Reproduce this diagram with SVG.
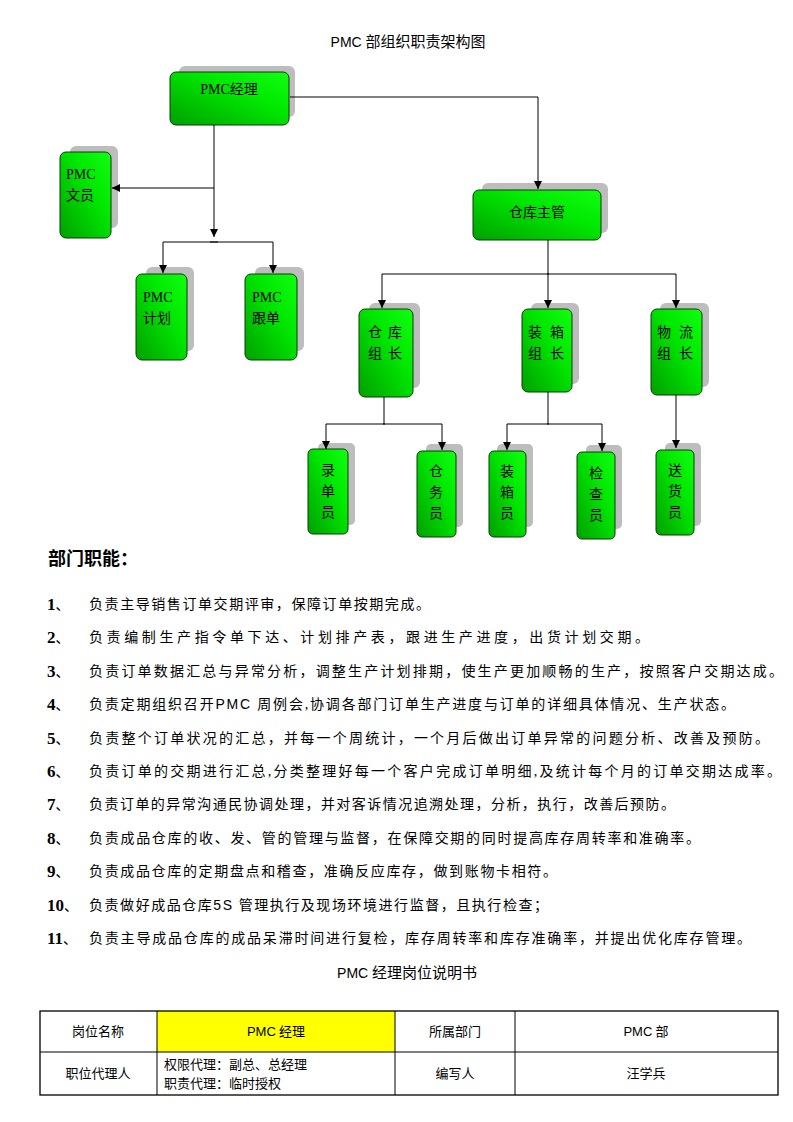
<svg xmlns="http://www.w3.org/2000/svg" width="793" height="1122" viewBox="0 0 793 1122">
<style>
.box{fill:url(#g);stroke:#0a3a0a;stroke-width:1}
.sh{fill:#BDBDBD}
.nt{font-family:"Liberation Serif","Noto Sans CJK SC",serif;font-size:14px;fill:#000}
.ns{font-family:"Noto Sans CJK SC",sans-serif;font-size:14px;fill:#000}
.ln{fill:none;stroke:#000;stroke-width:1}
.body{font-family:"Liberation Serif","Noto Sans CJK SC",serif;font-size:14px;fill:#000}
.num{font-family:"Liberation Serif",serif;font-size:17px;font-weight:bold;fill:#000}
.cell{font-family:"Liberation Serif","Noto Sans CJK SC",serif;font-size:13px;fill:#000}
</style>
<defs>
<linearGradient id="g" x1="0" y1="1" x2="1" y2="0">
<stop offset="0" stop-color="#00A000"/>
<stop offset="0.6" stop-color="#00E800"/>
<stop offset="1" stop-color="#10FF10"/>
</linearGradient>
<marker id="a" viewBox="0 0 10 10" refX="10" refY="5" markerWidth="8" markerHeight="8" markerUnits="userSpaceOnUse" orient="auto">
<path d="M0,0 L10,5 L0,10 z" fill="#000"/>
</marker>
</defs>
<rect width="793" height="1122" fill="#fff"/>
<text x="408" y="47" text-anchor="middle" font-family="Liberation Serif,Noto Sans CJK SC,serif" font-size="15"><tspan font-family="Liberation Sans,sans-serif" font-size="14">PMC</tspan> 部组织职责架构图</text>

<g id="n-pmc-manager">
<rect class="sh" x="179" y="66" width="116" height="51" rx="6"/>
<rect class="box" x="170" y="72" width="119" height="53" rx="6"/>
<text class="nt" x="229" y="94" text-anchor="middle">PMC经理</text>
</g>
<g id="n-pmc-clerk">
<rect class="sh" x="70" y="146" width="48" height="82" rx="6"/>
<rect class="box" x="60" y="152" width="51" height="86" rx="6"/>
<text class="nt" x="66" y="179">PMC</text>
<text class="nt" x="66" y="200">文员</text>
</g>
<g id="n-pmc-plan">
<rect class="sh" x="146" y="267" width="48" height="84" rx="6"/>
<rect class="box" x="136" y="274" width="51" height="86" rx="6"/>
<text class="nt" x="143" y="302">PMC</text>
<text class="nt" x="143" y="323">计划</text>
</g>
<g id="n-pmc-follow">
<rect class="sh" x="255" y="267" width="49" height="84" rx="6"/>
<rect class="box" x="245" y="274" width="52" height="86" rx="6"/>
<text class="nt" x="252" y="302">PMC</text>
<text class="nt" x="252" y="323">跟单</text>
</g>
<g id="n-wh-supervisor">
<rect class="sh" x="482" y="183" width="126" height="50" rx="6"/>
<rect class="box" x="473" y="190" width="128" height="50" rx="6"/>
<text class="ns" x="537" y="217" text-anchor="middle">仓库主管</text>
</g>
<g id="n-wh-leader">
<rect class="sh" x="369" y="303" width="51" height="85" rx="6"/>
<rect class="box" x="359" y="309" width="54" height="88" rx="6"/>
<text class="ns" x="375" y="337" text-anchor="middle">仓</text>
<text class="ns" x="395" y="337" text-anchor="middle">库</text>
<text class="ns" x="375" y="358" text-anchor="middle">组</text>
<text class="ns" x="395" y="358" text-anchor="middle">长</text>
</g>
<g id="n-pack-leader">
<rect class="sh" x="531" y="303" width="48" height="81" rx="6"/>
<rect class="box" x="522" y="309" width="50" height="83" rx="6"/>
<text class="ns" x="535" y="337" text-anchor="middle">装</text>
<text class="ns" x="557" y="337" text-anchor="middle">箱</text>
<text class="ns" x="535" y="358" text-anchor="middle">组</text>
<text class="ns" x="557" y="358" text-anchor="middle">长</text>
</g>
<g id="n-log-leader">
<rect class="sh" x="660" y="303" width="49" height="84" rx="6"/>
<rect class="box" x="651" y="309" width="51" height="86" rx="6"/>
<text class="ns" x="664" y="337" text-anchor="middle">物</text>
<text class="ns" x="686" y="337" text-anchor="middle">流</text>
<text class="ns" x="664" y="358" text-anchor="middle">组</text>
<text class="ns" x="686" y="358" text-anchor="middle">长</text>
</g>
<g id="n-entry">
<rect class="sh" x="318" y="443" width="37" height="82" rx="5"/>
<rect class="box" x="308" y="449" width="40" height="85" rx="5"/>
<text class="ns" x="328" y="475" text-anchor="middle">录</text>
<text class="ns" x="328" y="496" text-anchor="middle">单</text>
<text class="ns" x="328" y="517" text-anchor="middle">员</text>
</g>
<g id="n-wh-clerk">
<rect class="sh" x="426" y="444" width="37" height="83" rx="5"/>
<rect class="box" x="417" y="451" width="39" height="86" rx="5"/>
<text class="ns" x="436" y="476" text-anchor="middle">仓</text>
<text class="ns" x="436" y="497" text-anchor="middle">务</text>
<text class="ns" x="436" y="518" text-anchor="middle">员</text>
</g>
<g id="n-packer">
<rect class="sh" x="497" y="444" width="36" height="83" rx="5"/>
<rect class="box" x="489" y="451" width="37" height="86" rx="5"/>
<text class="ns" x="507" y="476" text-anchor="middle">装</text>
<text class="ns" x="507" y="497" text-anchor="middle">箱</text>
<text class="ns" x="507" y="518" text-anchor="middle">员</text>
</g>
<g id="n-inspector">
<rect class="sh" x="586" y="445" width="36" height="84" rx="5"/>
<rect class="box" x="577" y="452" width="38" height="87" rx="5"/>
<text class="ns" x="596" y="478" text-anchor="middle">检</text>
<text class="ns" x="596" y="499" text-anchor="middle">查</text>
<text class="ns" x="596" y="520" text-anchor="middle">员</text>
</g>
<g id="n-delivery">
<rect class="sh" x="665" y="443" width="36" height="83" rx="5"/>
<rect class="box" x="656" y="450" width="38" height="85" rx="5"/>
<text class="ns" x="675" y="475" text-anchor="middle">送</text>
<text class="ns" x="675" y="496" text-anchor="middle">货</text>
<text class="ns" x="675" y="517" text-anchor="middle">员</text>
</g>

<g id="connectors">
<path class="ln" d="M290,97 H538 V189" marker-end="url(#a)"/>
<path class="ln" d="M214,125 V237" marker-end="url(#a)" stroke="#444"/>
<path class="ln" d="M214,188 H112" marker-end="url(#a)"/>
<path class="ln" d="M218,242 H163 V273" marker-end="url(#a)"/>
<path class="ln" d="M210,242 H273 V273" marker-end="url(#a)"/>
<path class="ln" d="M548,240 V308" marker-end="url(#a)"/>
<path class="ln" d="M549,274 H382 V308" marker-end="url(#a)"/>
<path class="ln" d="M547,274 H676 V308" marker-end="url(#a)"/>
<path class="ln" d="M384,397 V424"/>
<path class="ln" d="M385,424 H326 V449" marker-end="url(#a)"/>
<path class="ln" d="M383,424 H442 V450" marker-end="url(#a)"/>
<path class="ln" d="M548,392 V424"/>
<path class="ln" d="M549,424 H507 V450" marker-end="url(#a)"/>
<path class="ln" d="M547,424 H602 V451" marker-end="url(#a)"/>
<path class="ln" d="M676,395 V448" marker-end="url(#a)"/>
</g>

<text x="48" y="565" font-family="Noto Sans CJK SC,sans-serif" font-size="18" font-weight="bold">部门职能：</text>

<g id="list">
<text class="num" x="47" y="610">1<tspan class="body" font-weight="normal">、</tspan></text>
<text class="body" x="89" y="609" textLength="341" lengthAdjust="spacing">负责主导销售订单交期评审，保障订单按期完成。</text>
<text class="num" x="47" y="643">2<tspan class="body" font-weight="normal">、</tspan></text>
<text class="body" x="89" y="642" textLength="560" lengthAdjust="spacing">负责编制生产指令单下达、计划排产表，跟进生产进度，出货计划交期。</text>
<text class="num" x="47" y="677">3<tspan class="body" font-weight="normal">、</tspan></text>
<text class="body" x="89" y="676" textLength="694" lengthAdjust="spacing">负责订单数据汇总与异常分析，调整生产计划排期，使生产更加顺畅的生产，按照客户交期达成。</text>
<text class="num" x="47" y="710">4<tspan class="body" font-weight="normal">、</tspan></text>
<text class="body" x="89" y="709" textLength="646" lengthAdjust="spacing">负责定期组织召开<tspan font-family="Liberation Sans,sans-serif">PMC</tspan> 周例会,协调各部门订单生产进度与订单的详细具体情况、生产状态。</text>
<text class="num" x="47" y="744">5<tspan class="body" font-weight="normal">、</tspan></text>
<text class="body" x="89" y="743" textLength="680" lengthAdjust="spacing">负责整个订单状况的汇总，并每一个周统计，一个月后做出订单异常的问题分析、改善及预防。</text>
<text class="num" x="47" y="777">6<tspan class="body" font-weight="normal">、</tspan></text>
<text class="body" x="89" y="776" textLength="692" lengthAdjust="spacing">负责订单的交期进行汇总,分类整理好每一个客户完成订单明细,及统计每个月的订单交期达成率。</text>
<text class="num" x="47" y="810">7<tspan class="body" font-weight="normal">、</tspan></text>
<text class="body" x="89" y="809" textLength="586" lengthAdjust="spacing">负责订单的异常沟通民协调处理，并对客诉情况追溯处理，分析，执行，改善后预防。</text>
<text class="num" x="47" y="844">8<tspan class="body" font-weight="normal">、</tspan></text>
<text class="body" x="89" y="843" textLength="611" lengthAdjust="spacing">负责成品仓库的收、发、管的管理与监督，在保障交期的同时提高库存周转率和准确率。</text>
<text class="num" x="47" y="877">9<tspan class="body" font-weight="normal">、</tspan></text>
<text class="body" x="89" y="876" textLength="468" lengthAdjust="spacing">负责成品仓库的定期盘点和稽查，准确反应库存，做到账物卡相符。</text>
<text class="num" x="47" y="911">10<tspan class="body" font-weight="normal">、</tspan></text>
<text class="body" x="89" y="910" textLength="459" lengthAdjust="spacing">负责做好成品仓库<tspan font-family="Liberation Sans,sans-serif">5S</tspan> 管理执行及现场环境进行监督，且执行检查；</text>
<text class="num" x="47" y="944">11<tspan class="body" font-weight="normal">、</tspan></text>
<text class="body" x="89" y="943" textLength="662" lengthAdjust="spacing">负责主导成品仓库的成品呆滞时间进行复检，库存周转率和库存准确率，并提出优化库存管理。</text>
</g>

<text x="407" y="978" text-anchor="middle" font-family="Liberation Serif,Noto Sans CJK SC,serif" font-size="15"><tspan font-family="Liberation Sans,sans-serif" font-size="14">PMC</tspan> 经理岗位说明书</text>

<g id="table">
<rect x="157" y="1011" width="238" height="41" fill="#FFFF00"/>
<rect x="40" y="1011" width="738" height="84" fill="none" stroke="#000" stroke-width="1.3"/>
<path d="M40,1052 H778 M157,1011 V1095 M395,1011 V1095 M515,1011 V1095" stroke="#000" stroke-width="1" fill="none"/>
<text class="cell" x="98" y="1036" text-anchor="middle">岗位名称</text>
<text class="cell" x="276" y="1036" text-anchor="middle"><tspan font-family="Liberation Sans,sans-serif">PMC</tspan> 经理</text>
<text class="cell" x="455" y="1036" text-anchor="middle">所属部门</text>
<text class="cell" x="646" y="1036" text-anchor="middle"><tspan font-family="Liberation Sans,sans-serif">PMC</tspan> 部</text>
<text class="cell" x="98" y="1078" text-anchor="middle">职位代理人</text>
<text class="cell" x="164" y="1069">权限代理：副总、总经理</text>
<text class="cell" x="164" y="1088">职责代理：临时授权</text>
<text class="cell" x="455" y="1078" text-anchor="middle">编写人</text>
<text class="cell" x="646" y="1078" text-anchor="middle">汪学兵</text>
</g>
</svg>
